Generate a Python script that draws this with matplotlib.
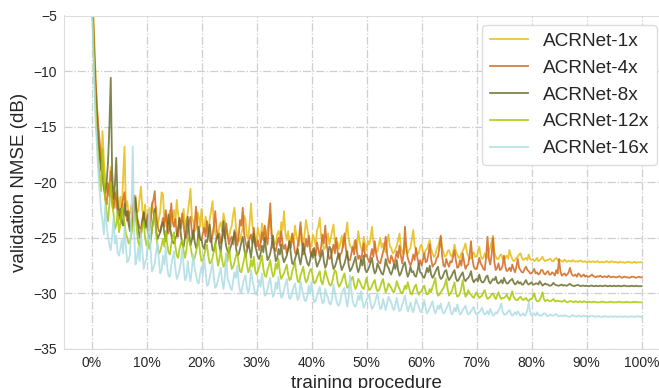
import matplotlib
matplotlib.use("Agg")
import matplotlib.pyplot as plt
import numpy as np

plt.rcParams['font.family'] = ['Liberation Sans', 'DejaVu Sans']

labels = ["ACRNet-1x", "ACRNet-4x", "ACRNet-8x", "ACRNet-12x", "ACRNet-16x"]
colors = ["#e6bc12", "#d2691e", "#6b6e2e", "#a8c805", "#acdde4"]
x_ticks = [0.0, 0.1, 0.2, 0.3, 0.4, 0.5, 0.6, 0.7, 0.8, 0.9, 1.0]
x_tick_labels = ["0%", "10%", "20%", "30%", "40%", "50%",
                 "60%", "70%", "80%", "90%", "100%"]

# validation NMSE (dB), one value every 0.25% of training
acrnet_1x = [
    -1.0, -4.0, -7.0, -10.5, -13.5, -16.0, -17.2, -18.9, -15.4, -18.0,
    -19.8, -20.6, -21.0, -20.2, -18.6, -20.9, -21.9, -22.3, -20.7, -21.5,
    -22.4, -21.3, -22.9, -19.5, -16.8, -22.2, -21.7, -23.0, -22.8, -22.1,
    -23.3, -23.5, -21.2, -22.7, -22.6, -21.4, -20.4, -22.5, -23.1, -22.0,
    -23.6, -23.0, -22.3, -23.5, -21.8, -22.7, -23.4, -22.2, -23.9, -23.3,
    -22.6, -20.9, -21.1, -23.6, -22.9, -24.1, -23.7, -22.5, -24.0, -23.2,
    -22.5, -23.7, -21.6, -22.9, -23.8, -24.2, -23.2, -22.4, -24.1, -23.4,
    -22.8, -21.8, -20.6, -23.2, -23.5, -24.4, -24.2, -22.7, -23.1, -24.0,
    -22.4, -23.9, -24.5, -23.1, -24.0, -24.7, -23.3, -22.6, -21.7, -23.8,
    -24.6, -25.0, -24.9, -23.9, -23.6, -24.4, -22.8, -23.5, -24.3, -24.9,
    -25.0, -24.3, -23.9, -22.9, -22.3, -24.0, -24.7, -25.3, -25.2, -24.6,
    -24.1, -23.0, -23.4, -24.8, -25.1, -23.7, -21.9, -23.9, -24.4, -25.2,
    -25.3, -24.1, -24.8, -25.4, -23.7, -24.5, -25.4, -24.9, -24.2, -23.4,
    -22.9, -24.6, -25.0, -25.6, -25.5, -24.7, -24.4, -25.1, -23.6, -24.3,
    -22.6, -24.6, -25.2, -24.4, -25.6, -25.0, -24.7, -25.5, -23.9, -24.8,
    -25.3, -25.7, -24.0, -24.9, -25.7, -24.6, -23.4, -24.2, -24.9, -25.6,
    -25.8, -24.7, -25.1, -25.7, -24.3, -24.0, -23.2, -24.9, -25.5, -26.0,
    -25.9, -25.2, -24.6, -25.6, -25.0, -24.4, -23.8, -25.3, -25.9, -25.4,
    -26.0, -25.5, -24.8, -25.9, -25.4, -24.6, -23.6, -25.1, -25.7, -25.9,
    -26.1, -25.4, -25.2, -26.0, -24.4, -25.3, -25.9, -26.2, -24.9, -25.6,
    -26.1, -25.3, -25.6, -25.0, -24.0, -25.4, -25.8, -26.3, -26.2, -25.6,
    -25.0, -25.9, -25.5, -26.0, -26.3, -25.4, -24.7, -25.8, -25.9, -26.4,
    -26.3, -26.0, -25.7, -25.2, -24.6, -25.9, -26.2, -26.5, -25.4, -25.8,
    -26.4, -26.1, -25.9, -25.1, -24.3, -25.7, -26.1, -26.5, -26.4, -25.8,
    -25.6, -26.2, -26.5, -26.1, -26.0, -25.6, -25.2, -26.0, -26.4, -26.7,
    -26.6, -26.0, -25.8, -25.3, -24.9, -25.9, -26.3, -26.7, -26.6, -26.2,
    -26.1, -26.5, -26.7, -26.3, -25.6, -26.2, -26.5, -26.8, -26.8, -26.4,
    -26.2, -25.9, -25.5, -26.3, -26.6, -26.9, -26.8, -26.5, -26.3, -26.7,
    -26.7, -26.3, -25.8, -26.6, -26.9, -26.8, -26.4, -26.7, -26.8, -26.2,
    -25.9, -25.4, -24.8, -26.3, -26.7, -26.9, -26.9, -26.6, -26.5, -26.9,
    -27.0, -26.8, -26.6, -26.9, -26.1, -26.6, -26.9, -27.1, -27.0, -26.8,
    -26.7, -26.5, -26.4, -26.8, -27.0, -26.9, -26.8, -27.0, -26.5, -26.9,
    -27.0, -26.9, -27.1, -27.0, -26.8, -27.1, -27.0, -26.9, -26.7, -27.0,
    -27.1, -27.0, -27.0, -26.9, -26.9, -27.1, -27.1, -26.9, -26.8, -27.0,
    -27.1, -27.0, -27.1, -27.15, -26.95, -27.1, -27.15, -27.05, -27.1, -27.15,
    -27.0, -27.1, -27.15, -27.1, -27.15, -27.05, -27.05, -27.15, -27.15, -27.1,
    -27.2, -27.15, -27.1, -27.2, -27.15, -27.1, -27.2, -27.15, -27.1, -27.2,
    -27.2, -27.15, -27.2, -27.2, -27.15, -27.1, -27.2, -27.2, -27.1, -27.15,
    -27.2, -27.15, -27.2, -27.25, -27.15, -27.2, -27.2, -27.2, -27.25, -27.2,
    -27.15, -27.2, -27.2, -27.25, -27.2, -27.15, -27.25, -27.2, -27.2, -27.2,
    -27.2,
]
acrnet_4x = [
    -1.5, -4.5, -8.0, -11.0, -13.2, -15.0, -16.5, -17.9, -18.8, -20.4,
    -21.5, -22.0, -20.1, -21.3, -19.0, -21.7, -22.4, -20.9, -21.6, -22.8,
    -23.0, -23.4, -22.2, -21.5, -20.9, -22.8, -23.5, -22.6, -23.9, -24.0,
    -22.4, -21.2, -21.8, -23.0, -23.6, -24.1, -24.2, -23.3, -22.7, -23.8,
    -23.4, -22.9, -24.3, -23.7, -22.1, -21.6, -20.8, -23.1, -23.9, -24.4,
    -24.5, -23.8, -23.2, -24.0, -22.5, -23.6, -24.6, -24.0, -21.9, -23.5,
    -24.0, -23.3, -24.7, -24.9, -23.3, -24.1, -22.8, -23.9, -24.9, -25.0,
    -24.4, -23.6, -23.1, -24.5, -25.1, -23.8, -22.2, -23.9, -24.6, -25.2,
    -25.2, -24.6, -24.1, -24.9, -23.5, -24.4, -25.3, -25.4, -24.8, -23.9,
    -22.6, -24.3, -25.0, -24.6, -25.5, -25.2, -24.2, -25.0, -23.7, -24.8,
    -25.6, -25.1, -24.9, -25.6, -24.3, -24.8, -25.7, -24.9, -23.4, -23.9,
    -22.3, -24.6, -25.4, -25.8, -25.9, -25.0, -24.7, -25.5, -24.1, -25.3,
    -25.8, -25.2, -26.1, -25.5, -24.5, -25.2, -23.9, -25.0, -25.6, -24.0,
    -21.9, -24.8, -25.9, -26.0, -26.2, -25.5, -25.0, -25.7, -24.4, -25.6,
    -26.0, -25.6, -26.4, -26.0, -25.3, -25.9, -24.6, -25.5, -26.3, -26.5,
    -25.7, -24.9, -23.6, -25.4, -26.5, -26.1, -25.1, -25.8, -24.8, -26.2,
    -26.6, -26.0, -26.2, -26.6, -25.4, -26.1, -26.7, -25.8, -24.7, -25.5,
    -23.9, -25.6, -26.4, -26.9, -26.8, -26.2, -25.6, -26.4, -25.0, -26.3,
    -26.9, -26.5, -26.3, -25.6, -24.6, -26.0, -26.7, -27.0, -27.0, -26.4,
    -25.8, -26.5, -25.2, -26.2, -26.9, -26.6, -27.1, -26.3, -25.5, -26.7,
    -26.5, -26.9, -27.2, -26.6, -26.0, -26.7, -25.3, -26.4, -27.0, -27.2,
    -27.3, -26.8, -26.3, -25.8, -24.9, -26.5, -27.1, -27.3, -26.6, -26.9,
    -27.4, -26.9, -26.2, -26.8, -25.7, -26.6, -27.3, -26.4, -24.0, -26.1,
    -26.8, -27.2, -27.5, -27.1, -26.5, -27.0, -25.9, -26.8, -27.4, -27.0,
    -27.5, -27.0, -26.4, -27.2, -27.1, -26.5, -25.6, -26.9, -27.6, -27.4,
    -27.3, -26.8, -26.7, -25.9, -24.8, -26.6, -27.5, -27.6, -26.9, -27.3,
    -27.6, -27.1, -27.2, -26.7, -26.1, -27.0, -27.7, -27.6, -27.0, -27.5,
    -26.4, -27.2, -27.8, -27.5, -27.4, -26.6, -25.3, -26.9, -27.6, -27.8,
    -27.8, -27.4, -26.8, -27.3, -27.5, -27.8, -27.9, -26.7, -24.9, -26.9,
    -27.4, -26.5, -25.0, -27.2, -27.9, -27.7, -27.3, -27.9, -27.8, -27.5,
    -26.6, -27.6, -28.0, -27.9, -27.7, -28.0, -27.4, -27.8, -28.1, -27.6,
    -26.9, -27.7, -27.9, -28.1, -28.1, -27.8, -27.6, -27.9, -28.0, -28.2,
    -28.2, -28.0, -27.8, -28.2, -28.1, -28.3, -28.2, -27.9, -27.9, -28.2,
    -28.3, -28.1, -28.0, -28.3, -28.3, -28.1, -28.2, -28.4, -27.9, -28.2,
    -26.9, -28.0, -28.4, -28.3, -28.2, -28.4, -28.3, -28.1, -27.7, -28.2,
    -28.4, -28.4, -28.3, -28.5, -28.2, -28.3, -28.5, -28.4, -28.3, -28.5,
    -28.4, -28.5, -28.5, -28.4, -28.3, -28.45, -28.5, -28.55, -28.45, -28.5,
    -28.4, -28.5, -28.55, -28.45, -28.5, -28.55, -28.4, -28.5, -28.55, -28.5,
    -28.5, -28.55, -28.55, -28.5, -28.45, -28.55, -28.6, -28.5, -28.5, -28.55,
    -28.55, -28.6, -28.55, -28.5, -28.5, -28.55, -28.6, -28.55, -28.5, -28.55,
    -28.55,
]
acrnet_8x = [
    -2.0, -5.5, -9.0, -12.0, -14.5, -16.4, -17.8, -18.9, -19.5, -20.5,
    -21.0, -20.0, -18.2, -15.0, -10.6, -19.0, -21.5, -20.3, -17.8, -21.8,
    -23.0, -22.4, -23.6, -23.9, -21.9, -23.0, -22.6, -23.8, -24.4, -24.0,
    -23.8, -22.5, -21.4, -23.3, -24.0, -25.0, -24.8, -23.6, -22.7, -24.1,
    -23.5, -24.5, -24.9, -25.1, -24.2, -23.4, -22.4, -24.3, -25.1, -24.8,
    -24.5, -23.9, -23.6, -24.6, -25.3, -24.4, -22.9, -24.0, -24.7, -25.4,
    -25.5, -25.0, -24.8, -24.1, -23.2, -24.7, -25.6, -25.8, -25.0, -24.2,
    -23.1, -24.6, -25.7, -25.2, -24.3, -25.3, -25.9, -25.5, -24.0, -25.1,
    -25.2, -25.8, -26.0, -25.2, -25.4, -24.6, -23.8, -25.1, -26.1, -26.2,
    -25.6, -25.0, -24.7, -25.7, -26.3, -25.0, -23.5, -24.9, -25.8, -26.2,
    -26.4, -25.9, -25.5, -25.1, -24.5, -25.8, -26.6, -26.5, -26.0, -25.4,
    -24.9, -25.9, -26.7, -26.2, -25.3, -26.0, -26.8, -25.6, -24.6, -25.7,
    -26.2, -26.7, -26.9, -26.4, -25.7, -26.3, -25.0, -26.1, -27.0, -26.8,
    -26.4, -25.7, -24.8, -26.2, -27.1, -26.9, -26.0, -26.5, -25.6, -26.7,
    -27.2, -26.9, -26.6, -26.0, -25.3, -26.5, -27.3, -27.4, -26.9, -26.5,
    -26.0, -26.8, -27.4, -26.6, -25.5, -26.3, -26.8, -27.3, -27.5, -27.0,
    -26.3, -26.8, -25.9, -27.0, -27.6, -27.3, -27.0, -26.6, -26.1, -27.1,
    -27.7, -27.4, -26.5, -25.8, -26.0, -27.2, -27.8, -27.6, -27.2, -26.7,
    -26.4, -27.3, -27.9, -27.6, -27.3, -26.8, -26.2, -27.4, -28.0, -27.8,
    -27.5, -27.1, -26.7, -27.6, -28.1, -27.7, -27.0, -27.5, -26.6, -27.8,
    -28.1, -27.9, -27.6, -27.2, -26.8, -27.7, -28.2, -28.0, -27.3, -27.6,
    -27.9, -28.2, -28.3, -27.8, -26.9, -27.5, -27.7, -28.1, -28.3, -27.9,
    -27.4, -27.8, -27.0, -27.9, -28.4, -28.2, -27.8, -27.4, -27.2, -28.0,
    -28.5, -28.2, -27.6, -28.1, -28.0, -28.4, -28.5, -28.0, -27.3, -28.1,
    -28.2, -28.5, -28.6, -28.2, -27.7, -28.1, -27.5, -28.3, -28.6, -28.4,
    -28.1, -27.8, -27.6, -28.4, -28.7, -28.6, -28.3, -28.0, -27.9, -28.5,
    -28.8, -28.6, -28.4, -28.1, -27.9, -28.6, -28.9, -28.8, -28.5, -28.3,
    -28.1, -28.7, -28.9, -28.7, -28.6, -28.4, -28.0, -28.7, -29.0, -28.8,
    -28.7, -28.9, -28.3, -28.8, -29.0, -29.0, -28.8, -28.5, -28.4, -28.9,
    -29.1, -28.9, -28.7, -28.8, -28.5, -29.0, -29.1, -29.0, -28.8, -29.1,
    -28.6, -28.9, -29.1, -29.1, -28.9, -28.8, -28.7, -29.0, -29.2, -29.1,
    -28.9, -29.1, -29.0, -29.2, -29.2, -29.0, -28.8, -29.1, -29.2, -29.1,
    -29.0, -29.2, -29.2, -29.1, -29.1, -29.2, -28.9, -29.1, -29.3, -29.2,
    -29.1, -29.2, -29.2, -29.3, -29.3, -29.2, -29.05, -29.2, -29.25, -29.3,
    -29.3, -29.25, -29.2, -29.3, -29.25, -29.3, -29.3, -29.2, -29.15, -29.25,
    -29.3, -29.35, -29.3, -29.25, -29.25, -29.3, -29.35, -29.3, -29.3, -29.35,
    -29.3, -29.35, -29.35, -29.3, -29.3, -29.35, -29.35, -29.3, -29.35, -29.35,
    -29.3, -29.35, -29.35, -29.3, -29.3, -29.35, -29.35, -29.3, -29.35, -29.35,
    -29.3, -29.35, -29.35, -29.3, -29.35, -29.35, -29.35, -29.3, -29.3, -29.35,
    -29.35, -29.35, -29.35, -29.3, -29.35, -29.35, -29.3, -29.35, -29.35, -29.35,
    -29.35,
]
acrnet_12x = [
    -2.5, -6.0, -10.0, -13.5, -16.0, -18.2, -19.5, -20.8, -17.0, -19.9,
    -21.5, -22.7, -23.5, -22.0, -20.0, -22.1, -22.8, -24.2, -23.9, -22.6,
    -24.5, -23.8, -22.4, -23.1, -23.6, -24.6, -25.0, -25.5, -25.3, -24.7,
    -23.9, -23.2, -22.8, -24.3, -25.4, -25.8, -24.6, -24.0, -23.5, -25.0,
    -25.7, -25.2, -26.0, -25.4, -24.2, -23.6, -22.8, -24.7, -25.8, -26.4,
    -26.2, -25.7, -25.1, -25.8, -24.4, -25.5, -26.3, -26.5, -25.6, -24.9,
    -24.5, -25.8, -26.6, -26.8, -26.0, -25.5, -25.2, -26.2, -26.8, -26.1,
    -24.9, -25.3, -25.8, -26.5, -27.0, -26.8, -26.3, -25.7, -25.1, -26.4,
    -27.1, -27.0, -26.5, -26.0, -25.6, -26.7, -27.3, -27.2, -26.8, -26.2,
    -25.4, -26.6, -27.5, -26.9, -26.1, -27.0, -27.6, -27.4, -26.4, -27.1,
    -25.8, -27.0, -27.8, -27.6, -27.2, -26.6, -26.3, -27.3, -28.0, -28.1,
    -27.5, -26.9, -26.2, -27.4, -28.1, -27.8, -27.0, -27.6, -26.7, -27.9,
    -28.3, -28.0, -27.6, -27.1, -26.6, -27.8, -28.4, -28.5, -27.9, -27.5,
    -27.0, -27.9, -28.5, -28.2, -27.3, -27.8, -26.9, -28.1, -28.7, -28.4,
    -28.2, -27.8, -27.4, -28.3, -28.8, -28.7, -28.0, -27.6, -27.2, -28.2,
    -28.9, -29.0, -28.4, -28.0, -27.6, -28.5, -29.0, -28.8, -28.3, -27.9,
    -27.8, -28.6, -29.1, -29.0, -28.6, -28.3, -28.0, -28.9, -29.2, -28.6,
    -27.9, -28.4, -28.8, -29.2, -29.3, -29.0, -28.4, -27.9, -28.1, -29.0,
    -29.4, -29.2, -28.9, -28.5, -28.2, -29.0, -29.5, -29.4, -29.0, -28.7,
    -28.5, -29.2, -29.6, -29.3, -28.7, -28.9, -29.2, -29.5, -29.6, -29.1,
    -28.6, -29.3, -29.7, -29.6, -29.3, -29.0, -28.8, -29.5, -29.8, -29.7,
    -29.4, -29.0, -28.7, -29.4, -29.9, -29.6, -29.1, -29.3, -29.5, -29.8,
    -29.9, -29.5, -28.9, -29.3, -29.6, -29.9, -30.0, -29.7, -29.3, -29.6,
    -29.0, -29.5, -30.0, -30.1, -29.7, -29.4, -29.2, -29.8, -30.1, -29.9,
    -29.8, -29.5, -29.3, -29.8, -30.1, -30.0, -29.6, -29.9, -29.4, -29.1,
    -28.6, -29.7, -30.2, -30.1, -29.9, -29.7, -29.5, -29.2, -28.7, -29.6,
    -30.2, -30.0, -29.8, -29.4, -29.0, -29.9, -30.3, -30.2, -30.0, -29.5,
    -28.8, -29.7, -30.3, -30.1, -29.7, -30.0, -30.1, -30.3, -30.4, -30.1,
    -29.9, -30.2, -30.4, -30.3, -30.2, -29.9, -29.7, -30.2, -30.5, -30.4,
    -30.3, -30.1, -30.0, -30.3, -30.5, -30.2, -29.9, -30.3, -30.5, -30.4,
    -30.4, -30.3, -30.1, -30.4, -30.6, -30.2, -29.8, -30.3, -30.5, -30.6,
    -30.6, -30.4, -30.3, -30.5, -30.6, -30.5, -30.4, -30.6, -30.7, -30.5,
    -30.5, -30.3, -30.0, -30.5, -30.7, -30.7, -30.6, -30.3, -29.9, -30.5,
    -30.7, -30.6, -30.6, -30.7, -30.7, -30.6, -30.5, -30.7, -30.7, -30.65,
    -30.7, -30.7, -30.75, -30.7, -30.6, -30.75, -30.8, -30.75, -30.7, -30.7,
    -30.75, -30.8, -30.7, -30.75, -30.8, -30.7, -30.75, -30.8, -30.7, -30.75,
    -30.8, -30.75, -30.75, -30.8, -30.8, -30.75, -30.75, -30.8, -30.8, -30.8,
    -30.8, -30.75, -30.75, -30.8, -30.8, -30.8, -30.8, -30.75, -30.75, -30.8,
    -30.8, -30.8, -30.8, -30.75, -30.75, -30.8, -30.8, -30.8, -30.8, -30.75,
    -30.8, -30.8, -30.8, -30.8, -30.75, -30.8, -30.75, -30.8, -30.8, -30.8,
    -30.8,
]
acrnet_16x = [
    -3.0, -7.0, -11.0, -14.5, -17.0, -19.3, -21.0, -22.6, -23.5, -24.7,
    -22.0, -23.9, -25.0, -25.6, -26.1, -24.9, -23.2, -25.5, -24.8, -26.3,
    -26.6, -26.0, -25.2, -26.4, -24.0, -25.8, -27.2, -27.0, -26.5, -23.0,
    -16.8, -24.5, -27.4, -26.8, -25.9, -27.1, -24.6, -26.2, -27.8, -27.2,
    -26.9, -25.0, -22.4, -26.1, -28.0, -27.7, -27.3, -26.2, -25.4, -27.0,
    -28.2, -27.9, -26.6, -27.4, -25.8, -27.6, -28.4, -28.5, -27.5, -26.8,
    -26.2, -27.8, -28.7, -28.4, -27.9, -27.2, -26.0, -27.5, -28.8, -28.6,
    -27.1, -28.2, -28.9, -27.8, -26.5, -27.7, -28.3, -29.0, -29.1, -28.2,
    -27.6, -28.4, -26.8, -28.1, -29.3, -29.2, -28.5, -27.9, -27.2, -28.6,
    -29.5, -29.3, -28.8, -28.2, -27.7, -28.9, -29.6, -28.4, -26.5, -28.7,
    -29.0, -29.5, -29.7, -28.9, -28.1, -28.6, -27.5, -29.0, -29.8, -29.9,
    -29.2, -28.7, -28.4, -29.5, -30.0, -29.3, -27.9, -28.8, -29.4, -30.0,
    -30.1, -29.5, -28.8, -29.4, -28.2, -29.3, -30.2, -30.1, -29.6, -29.0,
    -28.6, -29.7, -30.3, -30.0, -29.0, -29.6, -28.5, -29.6, -30.4, -30.2,
    -29.7, -29.2, -28.7, -29.8, -30.5, -30.4, -29.9, -29.4, -29.1, -30.0,
    -30.6, -30.3, -28.9, -29.6, -30.1, -30.6, -30.7, -30.2, -29.3, -30.0,
    -29.0, -30.1, -30.8, -30.7, -30.2, -29.8, -29.4, -30.3, -30.9, -30.8,
    -29.6, -30.1, -30.4, -30.9, -31.0, -30.4, -29.2, -29.9, -30.6, -31.0,
    -31.1, -30.6, -30.0, -29.7, -29.5, -30.5, -31.2, -30.4, -28.4, -29.8,
    -30.7, -31.1, -31.2, -30.8, -30.2, -30.6, -29.8, -30.7, -31.3, -31.0,
    -30.6, -30.3, -30.1, -30.9, -31.4, -31.2, -30.9, -30.4, -30.0, -30.8,
    -31.4, -31.3, -30.5, -31.0, -31.5, -30.9, -30.3, -30.6, -30.8, -31.3,
    -31.5, -31.0, -30.4, -31.1, -31.6, -31.5, -31.0, -30.6, -30.2, -31.0,
    -31.6, -31.3, -30.8, -31.4, -31.7, -31.1, -30.5, -30.9, -31.2, -31.6,
    -31.7, -31.2, -30.6, -31.3, -31.8, -31.6, -31.3, -31.0, -30.7, -31.4,
    -31.8, -31.5, -31.1, -31.4, -30.9, -31.5, -31.8, -31.7, -31.4, -31.1,
    -30.8, -31.5, -31.9, -31.7, -31.3, -31.6, -31.0, -31.5, -31.9, -31.8,
    -31.5, -31.3, -31.1, -31.6, -31.9, -31.8, -31.6, -31.4, -31.2, -31.7,
    -31.9, -31.8, -31.7, -31.5, -31.3, -31.7, -31.9, -31.8, -31.6, -31.9,
    -31.4, -31.7, -32.0, -31.9, -31.7, -31.8, -31.5, -31.3, -30.9, -31.6,
    -31.9, -31.9, -31.8, -31.6, -31.5, -31.8, -32.0, -31.9, -31.7, -31.9,
    -31.6, -31.8, -32.0, -31.9, -31.8, -32.0, -31.9, -31.5, -30.8, -31.7,
    -32.0, -31.9, -31.8, -32.0, -31.7, -31.9, -32.0, -32.0, -31.9, -31.8,
    -31.8, -32.0, -32.05, -31.95, -31.9, -32.0, -32.0, -31.9, -31.85, -32.0,
    -32.05, -32.0, -32.0, -32.05, -31.95, -32.0, -32.05, -32.1, -32.1, -32.0,
    -31.95, -32.05, -32.05, -32.1, -32.0, -32.0, -32.1, -32.05, -32.0, -32.05,
    -32.05, -32.1, -32.1, -32.05, -32.0, -32.05, -32.1, -32.1, -32.05, -32.05,
    -32.1, -32.1, -32.1, -32.05, -32.05, -32.1, -32.1, -32.1, -32.05, -32.1,
    -32.1, -32.05, -32.1, -32.1, -32.05, -32.1, -32.1, -32.1, -32.05, -32.1,
    -32.1, -32.1, -32.1, -32.05, -32.1, -32.1, -32.1, -32.05, -32.05, -32.1,
    -32.1,
]


def display_graph(series, out_file: str) -> None:
    """
    Draw the validation NMSE curves of every ACRNet variant over the
    training procedure and save the figure.

    Parameters
        series (list): NMSE values of each variant, in legend order
        out_file (str): Name of the png file to write
    """

    text_color = "#262626"
    fig = plt.figure(figsize=(6.59, 3.88), dpi=100)
    # the right side of the axes runs past the picture, as in the original
    ax = fig.add_axes([64 / 659, 39 / 388, 605 / 659, 333.5 / 388])

    for values, label, color in zip(series, labels, colors):
        steps = np.linspace(0, 1, len(values))
        ax.plot(steps, values, color=color, lw=1.3, alpha=0.85, label=label)

    ax.set_xlim(-0.05, 1.05)
    ax.set_ylim(-35, -5)
    ax.set_xticks(x_ticks, x_tick_labels)
    ax.grid(True, linestyle="-.", color="#cfcfcf", lw=0.9)
    ax.set_axisbelow(True)
    for spine in ax.spines.values():
        spine.set_color("#dddddd")
    ax.tick_params(length=0, labelsize=10, colors=text_color, pad=5)
    ax.set_xlabel("training procedure", fontsize=13.5, color=text_color)
    ax.set_ylabel("validation NMSE (dB)", fontsize=13.5, color=text_color)

    legend = ax.legend(loc="upper right",
                       bbox_to_anchor=(657 / 659, 363 / 388),
                       bbox_transform=fig.transFigure, fontsize=13.7,
                       labelspacing=0.5, framealpha=1,
                       edgecolor="#dddddd", borderaxespad=0)
    for text in legend.get_texts():
        text.set_color(text_color)

    fig.savefig(out_file, dpi=100)


def main():
    """
    Build the ACRNet validation NMSE chart and write it to out.png.
    """

    try:
        series = [acrnet_1x, acrnet_4x, acrnet_8x, acrnet_12x, acrnet_16x]
        display_graph(series, "out.png")
    except Exception as e:
        print("Exception:", e)


if __name__ == "__main__":
    main()
